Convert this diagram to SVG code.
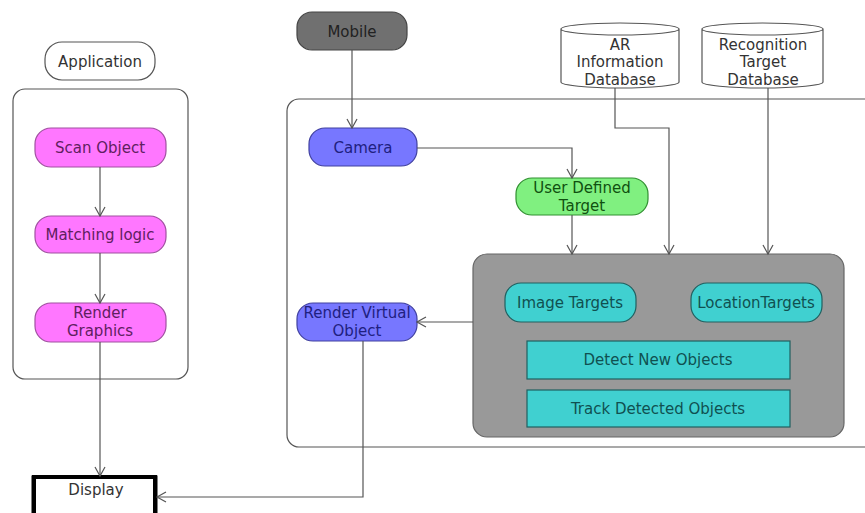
<svg xmlns="http://www.w3.org/2000/svg" width="865" height="513" viewBox="0 0 865 513">
<style>
text{font-family:"DejaVu Sans",sans-serif;font-size:15px;text-anchor:middle}
.pink{fill:#ff77ff;stroke:#a050a0;stroke-width:1.2}
.pinkt{fill:#602060}
.blue{fill:#7777ff;stroke:#4040a0;stroke-width:1.2}
.bluet{fill:#202080}
.cyan{fill:#40d0d0;stroke:#206060;stroke-width:1.2}
.cyant{fill:#105050}
.cont{fill:#fff;stroke:#555;stroke-width:1.2}
.conn{fill:none;stroke:#555;stroke-width:1.2}
.gt{fill:#333}
</style>
<defs>
<marker id="ah" markerWidth="12" markerHeight="12" refX="10" refY="6" orient="auto" markerUnits="userSpaceOnUse">
<path d="M1,1 L10,6 L1,11" fill="none" stroke="#555" stroke-width="1.2"/>
</marker>
</defs>
<rect width="865" height="513" fill="#fff"/>
<g id="app-container"><rect class="cont" x="13" y="89" width="175" height="290" rx="12"/></g>
<g id="main-container"><rect class="cont" x="287" y="99" width="600" height="348" rx="12"/></g>
<g id="application"><rect class="cont" x="45" y="42" width="110" height="38" rx="17"/><text x="100" y="67" class="gt">Application</text></g>
<g id="scan-object"><rect class="pink" x="35" y="128" width="131" height="39" rx="16"/><text x="100" y="153" class="pinkt">Scan Object</text></g>
<g id="matching-logic"><rect class="pink" x="35" y="216" width="131" height="37" rx="16"/><text x="100" y="240" class="pinkt">Matching logic</text></g>
<g id="render-graphics"><rect class="pink" x="35" y="303" width="131" height="39" rx="16"/><text x="100" y="318" class="pinkt">Render</text><text x="100" y="336" class="pinkt">Graphics</text></g>
<g id="display"><rect x="32" y="476" width="125" height="45" fill="#fff" stroke="#000" stroke-width="1"/><path d="M34,520 V477 H155 V520" fill="none" stroke="#000" stroke-width="4"/><text x="96" y="495" class="gt">Display</text></g>
<g id="mobile"><rect x="297" y="12" width="110" height="38" rx="15" fill="#707070" stroke="#444" stroke-width="1.2"/><text x="352" y="37" fill="#222">Mobile</text></g>
<g id="camera"><rect class="blue" x="309" y="128" width="108" height="38" rx="16"/><text x="363" y="153" class="bluet">Camera</text></g>
<g id="user-defined-target"><rect x="516" y="178" width="132" height="37" rx="16" fill="#80f080" stroke="#309030" stroke-width="1.2"/><text x="582" y="193" fill="#105010">User Defined</text><text x="582" y="211" fill="#105010">Target</text></g>
<g id="ar-db"><path d="M561,29 V82 A59,6 0 0 0 679,82 V29 A59,6 0 0 0 561,29 Z M561,29 A59,6 0 0 0 679,29" fill="#fff" stroke="#555" stroke-width="1.2"/><text x="620" y="50" class="gt">AR</text><text x="620" y="67" class="gt">Information</text><text x="620" y="85" class="gt">Database</text></g>
<g id="rec-db"><path d="M702,29 V82 A60.5,6 0 0 0 823,82 V29 A60.5,6 0 0 0 702,29 Z M702,29 A60.5,6 0 0 0 823,29" fill="#fff" stroke="#555" stroke-width="1.2"/><text x="763" y="50" class="gt">Recognition</text><text x="763" y="67" class="gt">Target</text><text x="763" y="85" class="gt">Database</text></g>
<g id="engine"><rect x="473" y="254" width="371" height="183" rx="14" fill="#999" stroke="#666" stroke-width="1.2"/></g>
<g id="image-targets"><rect class="cyan" x="505" y="283" width="131" height="39" rx="16"/><text x="570" y="308" class="cyant">Image Targets</text></g>
<g id="location-targets"><rect class="cyan" x="691" y="283" width="131" height="39" rx="16"/><text x="756" y="308" class="cyant">LocationTargets</text></g>
<g id="detect"><rect class="cyan" x="527" y="341" width="263" height="38"/><text x="658" y="365" class="cyant">Detect New Objects</text></g>
<g id="track"><rect class="cyan" x="527" y="390" width="263" height="37"/><text x="658" y="414" class="cyant">Track Detected Objects</text></g>
<g id="render-virtual"><rect class="blue" x="297" y="303" width="120" height="38" rx="16"/><text x="357" y="318" class="bluet">Render Virtual</text><text x="357" y="336" class="bluet">Object</text></g>
<g id="connectors">
<path class="conn" d="M100,167 V216" marker-end="url(#ah)"/>
<path class="conn" d="M100,253 V303" marker-end="url(#ah)"/>
<path class="conn" d="M100,342 V476" marker-end="url(#ah)"/>
<path class="conn" d="M352,50 V128" marker-end="url(#ah)"/>
<path class="conn" d="M417,148 H572 V178" marker-end="url(#ah)"/>
<path class="conn" d="M572,215 V254" marker-end="url(#ah)"/>
<path class="conn" d="M615,88 V128 H669 V254" marker-end="url(#ah)"/>
<path class="conn" d="M768,88 V254" marker-end="url(#ah)"/>
<path class="conn" d="M473,322 H417" marker-end="url(#ah)"/>
<path class="conn" d="M363,341 V497 H157" marker-end="url(#ah)"/>
</g>
</svg>
